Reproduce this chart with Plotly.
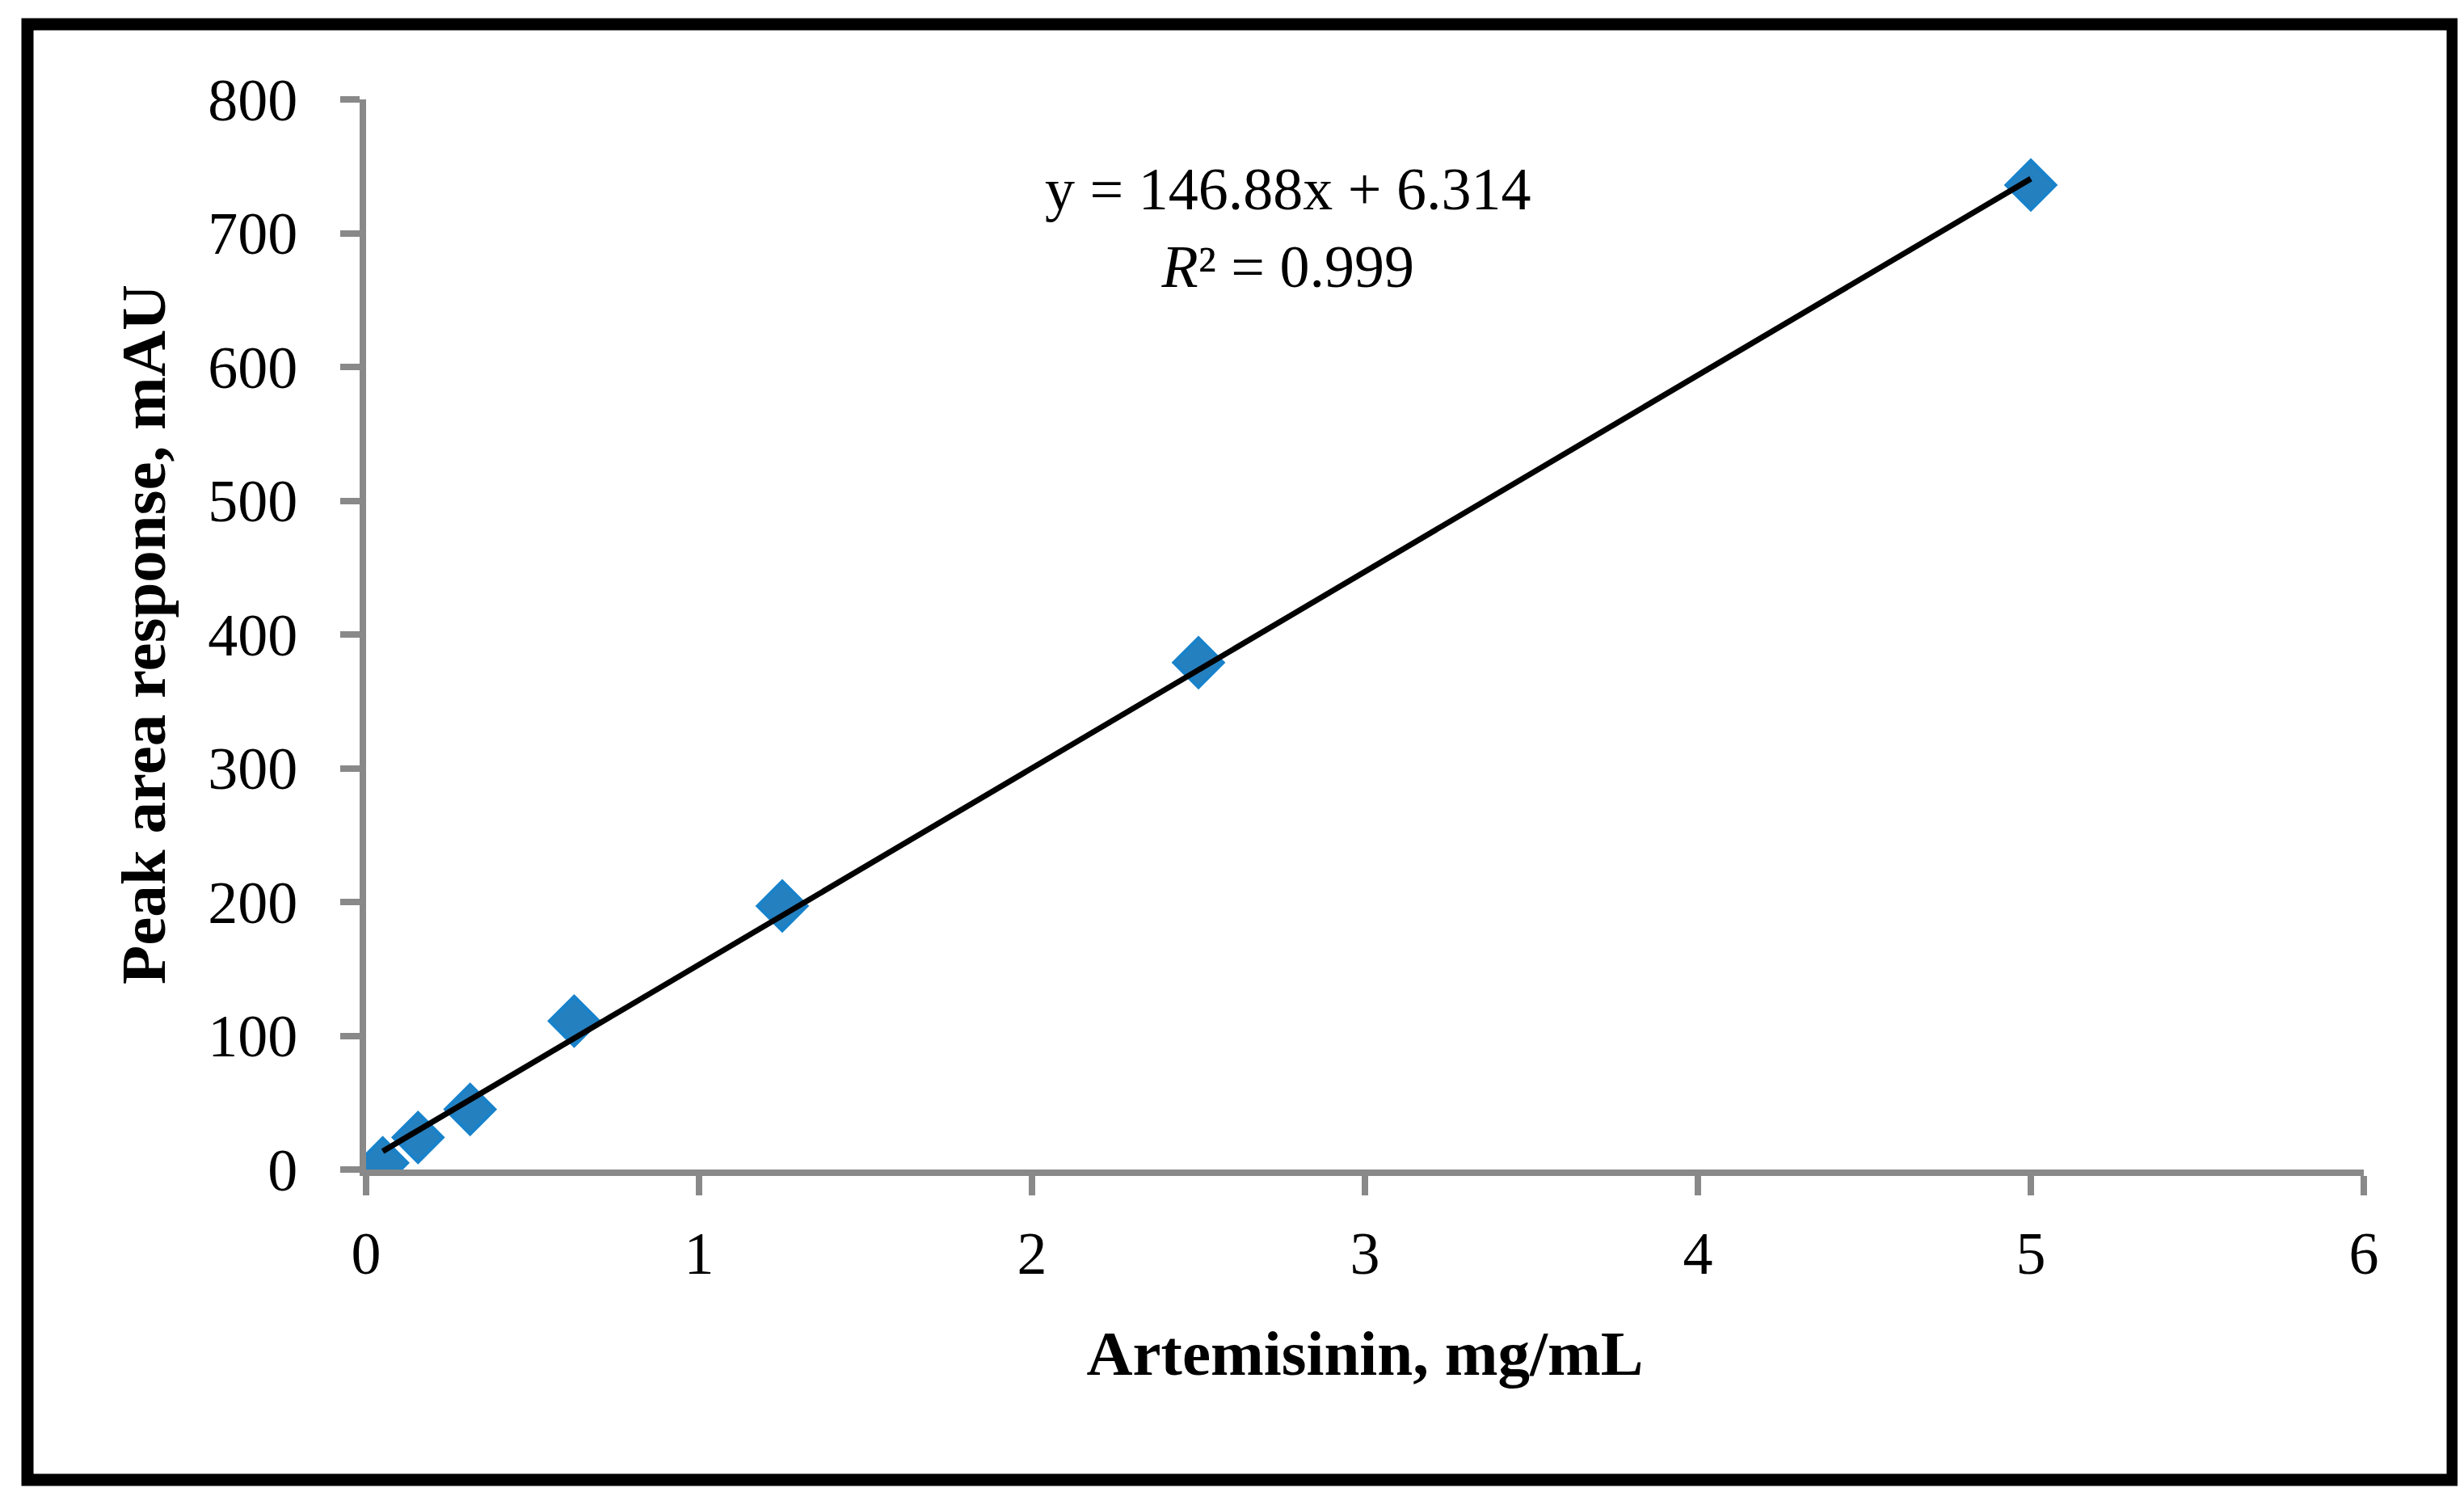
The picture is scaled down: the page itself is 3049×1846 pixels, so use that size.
import plotly.graph_objects as go

# calibration data
conc = [0.05, 0.156, 0.3125, 0.625, 1.25, 2.5, 5.0]      # mg/mL
area = [5, 24, 45, 111, 197, 379, 736]                    # mAU

slope = 146.88
intercept = 6.314
r2 = 0.999

x_ticks = [0, 1, 2, 3, 4, 5, 6]
y_ticks = [0, 100, 200, 300, 400, 500, 600, 700, 800]

W, H = 3049, 1846
ML, MR, MT, MB = 445, 132, 115, 407
FONT = "Liberation Serif"
AXIS_GREY = "#898989"

# trend line from the fitted equation over the measured range
fit_x = [min(conc), max(conc)]
fit_y = [slope * v + intercept for v in fit_x]

fig = go.Figure()

fig.add_trace(go.Scatter(
    x=conc, y=area,
    mode="markers",
    marker=dict(symbol="diamond", size=47, color="rgb(37,128,192)",
                line=dict(color="rgb(24,130,202)", width=4)),
    showlegend=False,
))

fig.add_trace(go.Scatter(
    x=fit_x, y=fit_y,
    mode="lines",
    line=dict(color="black", width=7),
    showlegend=False,
))

fig.add_annotation(
    x=2.767, y=704, xref="x", yref="y",
    text="y = 146.88x + 6.314<br><i>R</i>² = %.3f" % r2,
    showarrow=False, align="center",
    font=dict(family=FONT, size=74, color="black"),
)

# outer black frame, placed in pixel terms and converted to paper units
pw, ph = W - ML - MR, H - MT - MB
def px(xp):
    return (xp - ML) / pw
def py(yp):
    return (H - MB - yp) / ph

fig.add_shape(type="rect", xref="paper", yref="paper",
              x0=px(26), x1=px(3027), y0=py(1823), y1=py(22),
              line=dict(color="black", width=15), layer="above")

fig.update_xaxes(
    range=[0, 6], tickvals=x_ticks, showgrid=False, zeroline=False,
    showline=True, linecolor=AXIS_GREY, linewidth=8,
    ticks="outside", ticklen=24, tickwidth=8, tickcolor=AXIS_GREY,
    ticklabelstandoff=8,
    tickfont=dict(family=FONT, size=74, color="black"),
    title=dict(text="<b>Artemisinin, mg/mL</b>", standoff=58,
               font=dict(family=FONT, size=79, color="black")),
)
fig.update_yaxes(
    range=[0, 800], tickvals=y_ticks, showgrid=False, zeroline=False,
    showline=True, linecolor=AXIS_GREY, linewidth=8,
    ticks="outside", ticklen=24, tickwidth=8, tickcolor=AXIS_GREY,
    ticklabelstandoff=38,
    tickfont=dict(family=FONT, size=74, color="black"),
    title=dict(text="<b>Peak area response, mAU</b>", standoff=30,
               font=dict(family=FONT, size=79, color="black")),
)

fig.update_layout(
    width=W, height=H, autosize=False,
    margin=dict(l=ML, r=MR, t=MT, b=MB),
    paper_bgcolor="white", plot_bgcolor="white",
    font=dict(family=FONT, color="black"),
)

fig.write_html("out.html")
